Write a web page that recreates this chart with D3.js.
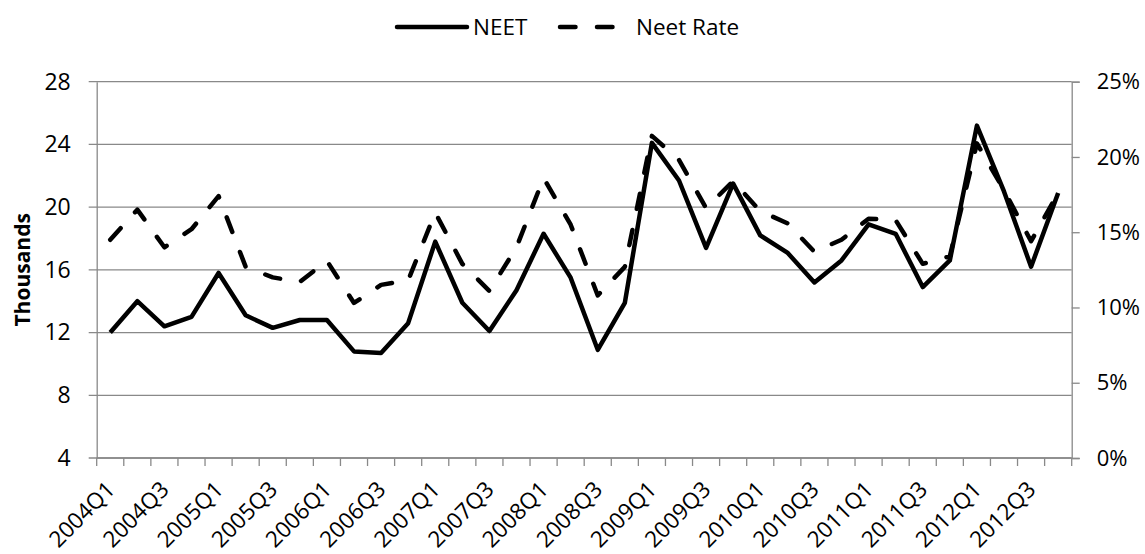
<!DOCTYPE html>
<html>
<head>
<meta charset="utf-8">
<script src="https://cdn.jsdelivr.net/npm/d3@7"></script>
<style>
  body { margin: 0; background: #fff; }
  text { font-family: "Open Sans", "Noto Sans", sans-serif; fill: #000; }
</style>
</head>
<body>
<div id="chart"></div>
<script>
// quarters on the x axis
const quarters = [
  "2004Q1","2004Q2","2004Q3","2004Q4","2005Q1","2005Q2","2005Q3","2005Q4",
  "2006Q1","2006Q2","2006Q3","2006Q4","2007Q1","2007Q2","2007Q3","2007Q4",
  "2008Q1","2008Q2","2008Q3","2008Q4","2009Q1","2009Q2","2009Q3","2009Q4",
  "2010Q1","2010Q2","2010Q3","2010Q4","2011Q1","2011Q2","2011Q3","2011Q4",
  "2012Q1","2012Q2","2012Q3","2012Q4"
];
// labels that are shown under the axis
const xLabels = [
  "2004Q1","2004Q3","2005Q1","2005Q3","2006Q1","2006Q3","2007Q1","2007Q3",
  "2008Q1","2008Q3","2009Q1","2009Q3","2010Q1","2010Q3","2011Q1","2011Q3",
  "2012Q1","2012Q3"
];
// NEET, thousands (left axis)
const neet = [
  12.0, 14.0, 12.4, 13.0, 15.8, 13.1, 12.3, 12.8,
  12.8, 10.8, 10.7, 12.6, 17.8, 13.9, 12.1, 14.7,
  18.3, 15.5, 10.9, 13.9, 24.1, 21.7, 17.4, 21.5,
  18.2, 17.1, 15.2, 16.6, 18.9, 18.3, 14.9, 16.6,
  25.2, 21.0, 16.2, 20.9
];
// Neet rate, percent (right axis)
const neetRate = [
  14.5, 16.5, 14.0, 15.2, 17.4, 12.7, 12.0, 11.7,
  13.1, 10.3, 11.5, 11.8, 16.3, 12.9, 11.1, 14.0,
  18.6, 15.5, 10.8, 12.7, 21.4, 19.8, 16.6, 18.4,
  16.4, 15.6, 13.7, 14.5, 15.9, 15.8, 12.9, 13.4,
  20.9, 17.8, 14.4, 17.6
];
const leftTicks = [4, 8, 12, 16, 20, 24, 28];
const rightTicks = [0, 5, 10, 15, 20, 25];

const width = 1145, height = 554;
const margin = { top: 81.7, right: 73.3, bottom: 96, left: 96.7 };
const gridColor = "#898989";
const dash = "15.5,21.5";

const svg = d3.select("#chart")
  .append("svg")
  .attr("width", width)
  .attr("height", height);

const x = d3.scaleBand()
  .domain(quarters)
  .range([margin.left, width - margin.right])
  .padding(0);

const yLeft = d3.scaleLinear()
  .domain([4, 28])
  .range([height - margin.bottom, margin.top]);

const yRight = d3.scaleLinear()
  .domain([0, 25])
  .range([height - margin.bottom, margin.top]);

const x0 = margin.left, x1 = width - margin.right;
const yb = height - margin.bottom;

// gridlines (from left axis)
svg.append("g")
  .selectAll("line")
  .data(leftTicks)
  .join("line")
  .attr("x1", x0 - 8).attr("x2", x1)
  .attr("y1", d => yLeft(d)).attr("y2", d => yLeft(d))
  .attr("stroke", gridColor)
  .attr("stroke-width", 1.3);

// left axis
const gl = svg.append("g")
  .attr("transform", `translate(${x0},0)`)
  .call(d3.axisLeft(yLeft).tickValues(leftTicks).tickSize(0).tickPadding(26));
gl.select(".domain").attr("stroke", gridColor).attr("stroke-width", 1.3);
gl.selectAll("text").style("font-size", "23px").style("font-family", "Open Sans");

// right axis
const gr = svg.append("g")
  .attr("transform", `translate(${x1},0)`)
  .call(d3.axisRight(yRight).tickValues(rightTicks).tickSize(8).tickPadding(17)
    .tickFormat(d => d + "%"));
gr.select(".domain").attr("stroke", gridColor).attr("stroke-width", 1.3);
gr.selectAll(".tick line").attr("stroke", gridColor).attr("stroke-width", 1.3);
gr.selectAll("text").style("font-size", "22px").style("font-family", "Open Sans");

// bottom axis: ticks at category boundaries
const bounds = quarters.map(q => x(q)).concat([x1]);
svg.append("line")
  .attr("x1", x0).attr("x2", x1)
  .attr("y1", yb).attr("y2", yb)
  .attr("stroke", gridColor).attr("stroke-width", 1.3);
svg.append("g")
  .selectAll("line")
  .data(bounds)
  .join("line")
  .attr("x1", d => d).attr("x2", d => d)
  .attr("y1", yb).attr("y2", yb + 8)
  .attr("stroke", gridColor).attr("stroke-width", 1.3);

svg.append("g")
  .selectAll("text")
  .data(xLabels)
  .join("text")
  .attr("transform", d => `translate(${x(d) + x.bandwidth() / 2 + 6},${yb + 33}) rotate(-45)`)
  .attr("text-anchor", "end")
  .style("font-size", "22.5px")
  .text(d => d);

// y axis title
svg.append("text")
  .attr("transform", `translate(30,${(margin.top + yb) / 2}) rotate(-90)`)
  .attr("text-anchor", "middle")
  .style("font-size", "21px")
  .style("font-weight", "bold")
  .text("Thousands");

// lines
const cx = i => x(quarters[i]) + x.bandwidth() / 2;

const neetLine = d3.line()
  .x((d, i) => cx(i))
  .y(d => yLeft(d));
const rateLine = d3.line()
  .x((d, i) => cx(i))
  .y(d => yRight(d));

svg.append("path")
  .datum(neetRate)
  .attr("d", rateLine)
  .attr("fill", "none")
  .attr("stroke", "#000")
  .attr("stroke-width", 4.5)
  .attr("stroke-dasharray", dash)
  .attr("stroke-linecap", "round")
  .attr("stroke-linejoin", "round");

svg.append("path")
  .datum(neet)
  .attr("d", neetLine)
  .attr("fill", "none")
  .attr("stroke", "#000")
  .attr("stroke-width", 4.5)
  .attr("stroke-linejoin", "round");

// legend
const legend = svg.append("g");
legend.append("line")
  .attr("x1", 397).attr("x2", 467).attr("y1", 27).attr("y2", 27)
  .attr("stroke", "#000").attr("stroke-width", 4.5).attr("stroke-linecap", "round");
legend.append("text")
  .attr("x", 473).attr("y", 35)
  .style("font-size", "22.5px")
  .text("NEET");
legend.append("line")
  .attr("x1", 560).attr("x2", 620).attr("y1", 27).attr("y2", 27)
  .attr("stroke", "#000").attr("stroke-width", 4.5)
  .attr("stroke-dasharray", dash)
  .attr("stroke-linecap", "round");
legend.append("text")
  .attr("x", 636).attr("y", 35)
  .style("font-size", "22.5px")
  .text("Neet Rate");
</script>
</body>
</html>
